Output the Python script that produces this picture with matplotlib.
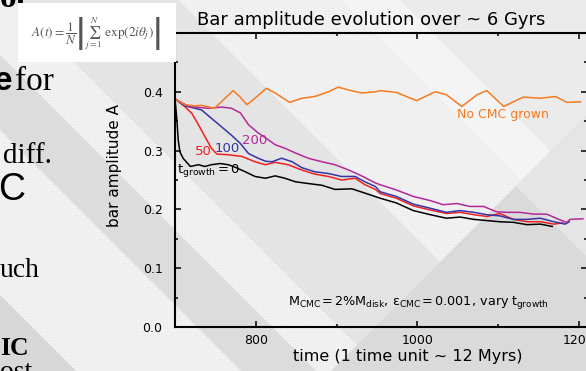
import matplotlib
matplotlib.use('Agg')
import matplotlib.pyplot as plt
from matplotlib.patches import Polygon, Rectangle
from matplotlib.collections import LineCollection

plt.rcParams['font.family'] = ['DejaVu Sans']
plt.rcParams['mathtext.fontset'] = 'stix'

# ---- data ----
t_orange = [700, 712, 725, 733, 749, 762, 772, 780, 789, 799, 813, 824, 842, 857, 873, 890, 902, 915, 931, 948,
            954, 974, 999, 1022, 1036, 1055, 1074, 1086, 1107, 1131, 1152, 1171, 1185, 1202]
a_orange = [0.388, 0.378, 0.376, 0.377, 0.372, 0.389, 0.402, 0.392, 0.378, 0.389, 0.406, 0.398, 0.382, 0.389,
            0.392, 0.400, 0.408, 0.403, 0.398, 0.400, 0.402, 0.399, 0.385, 0.400, 0.395, 0.375, 0.395, 0.402,
            0.375, 0.391, 0.389, 0.392, 0.382, 0.383]

t_black = [700, 702, 704, 706, 710, 719, 729, 737, 745, 756, 766, 774, 787, 799, 812, 824, 836, 849, 865, 882,
           898, 919, 941, 954, 974, 995, 1016, 1036, 1053, 1070, 1086, 1102, 1119, 1136, 1152, 1167]
a_black = [0.388, 0.358, 0.318, 0.298, 0.287, 0.273, 0.276, 0.273, 0.276, 0.278, 0.276, 0.272, 0.264, 0.256,
           0.253, 0.257, 0.253, 0.247, 0.244, 0.241, 0.234, 0.235, 0.225, 0.219, 0.211, 0.198, 0.191, 0.185,
           0.187, 0.183, 0.181, 0.179, 0.178, 0.174, 0.175, 0.171]

t_red = [700, 712, 721, 729, 737, 745, 752, 766, 783, 799, 812, 824, 840, 857, 873, 890, 906, 923, 935, 948,
         954, 974, 995, 1016, 1036, 1053, 1070, 1086, 1102, 1119, 1136, 1152, 1169, 1180]
a_red = [0.388, 0.375, 0.363, 0.344, 0.324, 0.304, 0.294, 0.293, 0.290, 0.281, 0.276, 0.280, 0.276, 0.267,
         0.260, 0.256, 0.250, 0.253, 0.242, 0.234, 0.227, 0.219, 0.206, 0.199, 0.193, 0.195, 0.191, 0.188,
         0.193, 0.183, 0.179, 0.179, 0.175, 0.177]

t_blue = [700, 712, 725, 733, 745, 758, 770, 781, 791, 803, 812, 820, 832, 845, 857, 873, 890, 906, 923, 935,
          948, 954, 974, 995, 1016, 1036, 1053, 1070, 1086, 1102, 1119, 1136, 1152, 1169, 1183, 1188]
a_blue = [0.388, 0.376, 0.372, 0.369, 0.355, 0.340, 0.326, 0.312, 0.295, 0.287, 0.282, 0.281, 0.287, 0.281,
          0.271, 0.264, 0.261, 0.256, 0.256, 0.247, 0.239, 0.230, 0.222, 0.209, 0.202, 0.195, 0.198, 0.195,
          0.191, 0.189, 0.183, 0.183, 0.185, 0.179, 0.175, 0.179]

t_mag = [700, 717, 741, 758, 770, 781, 791, 803, 816, 824, 836, 849, 865, 882, 898, 915, 931, 948,
         954, 974, 995, 1016, 1032, 1049, 1065, 1082, 1098, 1111, 1127, 1144, 1160, 1177, 1185, 1189, 1205]
a_mag = [0.388, 0.375, 0.372, 0.374, 0.372, 0.364, 0.344, 0.330, 0.318, 0.310, 0.304, 0.296, 0.287, 0.281,
         0.276, 0.267, 0.257, 0.245, 0.242, 0.233, 0.222, 0.215, 0.208, 0.210, 0.205, 0.205, 0.196, 0.195,
         0.195, 0.192, 0.192, 0.182, 0.178, 0.183, 0.184]

x_ticks = [800, 1000, 1200]
x_minor = [700, 900, 1100]
y_ticks = [0.0, 0.1, 0.2, 0.3, 0.4]
y_minor = [0.05, 0.15, 0.25, 0.35, 0.45]

W, H = 586, 371
fig = plt.figure(figsize=(W / 100, H / 100), dpi=100)
fig.patch.set_facecolor('#dadada')


# ---- slide background: diagonal bands (pixel coords, y down) ----
def clip(poly, a, b, d):
    out = []
    for i in range(len(poly)):
        p, q = poly[i], poly[(i + 1) % len(poly)]
        fp = a * p[0] + b * p[1] - d
        fq = a * q[0] + b * q[1] - d
        if fp <= 0:
            out.append(p)
        if fp * fq < 0:
            s = fp / (fp - fq)
            out.append((p[0] + s * (q[0] - p[0]), p[1] + s * (q[1] - p[1])))
    return out


def region(*cons):
    poly = [(-5, -5), (W + 5, -5), (W + 5, H + 5), (-5, H + 5)]
    for c in cons:
        poly = clip(poly, *c)
    return poly


near = (1, 1, 702)     # x + y < 702
far = (-1, -1, -702)   # x + y > 702


def below(k):          # y - x < k
    return (-1, 1, k)


def above(k):          # y - x > k
    return (1, -1, -k)


bg = fig.add_axes([0, 0, 1, 1], zorder=-10)
bg.set_xlim(0, W)
bg.set_ylim(H, 0)
bg.axis('off')

bands = [
    (region(near, below(-400)), '#ebebeb', False),
    (region(near, above(-400), below(-340)), '#f4f4f4', False),
    (region(near, above(-340), below(-178)), '#eeeeee', True),
    (region(near, above(-178), below(-12)), '#e4e4e4', False),
    (region(near, above(-12), below(55)), '#eeeeee', True),
    (region(near, above(55), below(130)), '#dcdcdc', False),
    (region(near, above(130), below(295)), '#eeeeee', True),
    (region(above(295)), '#d8d8d8', False),
    (region(far, below(-330)), '#e5e5e5', False),
]
grid_lines = [[(x, 0), (x, H)] for x in range(0, W, 3)] + [[(0, y), (W, y)] for y in range(0, H, 3)]
for poly, col, gridded in bands:
    if len(poly) < 3:
        continue
    patch = Polygon(poly, closed=True, facecolor=col, edgecolor='none')
    bg.add_patch(patch)
    if gridded:
        lc = LineCollection(grid_lines, colors='white', linewidths=0.4, alpha=0.4)
        bg.add_collection(lc)
        lc.set_clip_path(patch)

# ---- chart ----
ax = fig.add_axes([175 / W, 44 / H, 412 / W, 294 / H])
ax.set_facecolor('none')

ax.plot(t_black, a_black, color='black', lw=1.1)
ax.plot(t_red, a_red, color='#f02020', lw=1.1)
ax.plot(t_blue, a_blue, color='#3535a5', lw=1.1)
ax.plot(t_mag, a_mag, color='#b5289a', lw=1.1)
ax.plot(t_orange, a_orange, color='#f57a22', lw=1.1)

ax.set_xlim(700, 1210)
ax.set_ylim(0, 0.5)
ax.set_xticks(x_ticks)
ax.set_xticklabels([str(v) for v in x_ticks])
ax.set_xticks(x_minor, minor=True)
ax.set_yticks(y_ticks)
ax.set_yticklabels([f'{v:.1f}' for v in y_ticks])
ax.set_yticks(y_minor, minor=True)
ax.tick_params(which='both', direction='in', top=True, right=True, width=1.1, labelsize=9)
ax.tick_params(which='major', length=4.5)
ax.tick_params(which='minor', length=2.5)
ax.tick_params(axis='x', pad=5)
ax.tick_params(axis='y', pad=9)
for s in ax.spines.values():
    s.set_linewidth(1.5)

ax.set_title('Bar amplitude evolution over ~ 6 Gyrs', fontsize=13, x=(371 - 175) / 412, y=1.0, pad=6)
ax.set_xlabel('time (1 time unit ~ 12 Myrs)', fontsize=11.5)
ax.xaxis.set_label_coords((408 - 175) / 412, -(349 - 327) / 294)
ax.set_ylabel('bar amplitude A', fontsize=11)
ax.yaxis.set_label_coords(-(175 - 122) / 412, (327 - 166) / 294)

ax.text(1106, 0.361, 'No CMC grown', color='#f57a22', fontsize=9, ha='center', va='center')
ax.text(798, 0.318, '200', color='#b5289a', fontsize=9.5, ha='center', va='center')
ax.text(764, 0.303, '100', color='#3535a5', fontsize=9.5, ha='center', va='center')
ax.text(735, 0.298, '50', color='#f02020', fontsize=9.5, ha='center', va='center')
ax.text(702.5, 0.262, r'$\mathregular{t_{growth}=0}$', color='black', fontsize=9.5, ha='left', va='baseline')
ax.text(840, 0.037, r'$\mathregular{M_{CMC}=2\%M_{disk},\ \epsilon_{CMC}=0.001,\ vary\ t_{growth}}$',
        color='black', fontsize=9.2, ha='left', va='baseline')


# ---- rest of the slide ----
def fx(x):
    return x / W


def fy(y):
    return 1 - y / H


fig.add_artist(Rectangle((fx(18), fy(62)), 158 / W, 59 / H, transform=fig.transFigure,
                         facecolor='white', edgecolor='none', zorder=5))
fig.text(fx(96), fy(34), r'$A(t)=\dfrac{1}{N}\left|\sum_{j=1}^{N}\ \exp(2i\theta_j)\right|$',
         fontsize=9.5, color='#555555', ha='center', va='center', zorder=6)

serif = 'Liberation Serif'
fig.text(fx(0), fy(7), 'ot', family=serif, fontsize=24, fontweight='bold', va='baseline')
fig.text(fx(12), fy(90), 'e', family='Liberation Sans', fontsize=24, fontweight='bold', ha='right', va='baseline')
fig.text(fx(15), fy(90), 'for', family=serif, fontsize=24, va='baseline')
fig.text(fx(3), fy(163), 'diff.', family=serif, fontsize=21, va='baseline')
fig.text(fx(25), fy(200), 'C', family='Liberation Sans', fontsize=27, ha='right', va='baseline')
fig.text(fx(0), fy(277), 'uch', family=serif, fontsize=20, va='baseline')
fig.text(fx(0), fy(355), 'IC', family=serif, fontsize=18.5, fontweight='bold', va='baseline')
fig.text(fx(0), fy(379), 'ost', family=serif, fontsize=20, va='baseline')

fig.savefig('out.png', dpi=100, facecolor=fig.get_facecolor())
